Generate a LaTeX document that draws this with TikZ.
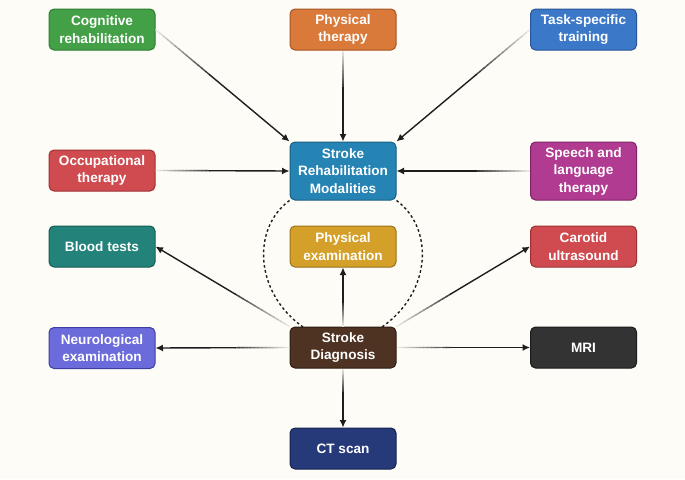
\documentclass[tikz,border=0pt]{standalone}
\usepackage{fontspec}
\setmainfont{Liberation Sans}
\usetikzlibrary{arrows.meta,calc}
\definecolor{bg}{HTML}{FDFCF6}
\definecolor{cogF}{HTML}{43A047}\definecolor{cogD}{HTML}{2E7D32}
\definecolor{ptF}{HTML}{D9793A}\definecolor{ptD}{HTML}{A65523}
\definecolor{taskF}{HTML}{3C78C8}\definecolor{taskD}{HTML}{28549A}
\definecolor{occF}{HTML}{CF4B50}\definecolor{occD}{HTML}{9E2F34}
\definecolor{rehabF}{HTML}{2584B4}\definecolor{rehabD}{HTML}{1A5E82}
\definecolor{speechF}{HTML}{B03B91}\definecolor{speechD}{HTML}{7E2466}
\definecolor{bloodF}{HTML}{23837A}\definecolor{bloodD}{HTML}{165C55}
\definecolor{pexF}{HTML}{D4A02A}\definecolor{pexD}{HTML}{9A7218}
\definecolor{neuroF}{HTML}{6B6BDB}\definecolor{neuroD}{HTML}{3E3EA0}
\definecolor{diagF}{HTML}{4E3222}\definecolor{diagD}{HTML}{2E1C12}
\definecolor{mriF}{HTML}{333333}\definecolor{mriD}{HTML}{1A1A1A}
\definecolor{ctF}{HTML}{263A7A}\definecolor{ctD}{HTML}{16234F}
\definecolor{edge}{HTML}{1E1E1E}
\tikzset{
  box/.style={rectangle, rounded corners=5pt, line width=1pt, minimum width=106pt,
    minimum height=41pt, inner sep=2pt, align=center, text=white,
    font=\bfseries\fontsize{13.6}{17.5}\selectfont},
  arr/.style={line width=1.4pt, edge, -{Latex[length=7.5pt,width=7pt]}},
  dashline/.style={line width=1.4pt, edge, dash pattern=on 2.6pt off 2.6pt}
}
\newcommand\gconn[2]{%
  \path (#1) -- (#2) coordinate[pos=0] (gs) coordinate[pos=1] (gt);
  \foreach \i in {0,...,13} {%
    \pgfmathsetmacro\gc{int(10+\i*5.8)}%
    \draw[line width=1.4pt, edge!\gc!bg] ($(gs)!{\i/35}!(gt)$) -- ($(gs)!{(\i+1.2)/35}!(gt)$);
  }
  \draw[arr] ($(gs)!{14/35}!(gt)$) -- (gt);
}
\begin{document}
\begin{tikzpicture}[x=1pt,y=-1pt]
\fill[bg] (0,0) rectangle (685,479);
\useasboundingbox (0,0) rectangle (685,479);

\coordinate (la) at (303,327);
\coordinate (ra) at (382,327);

\node[box, fill=cogF, draw=cogD] (cog) at (102,29.5) {Cognitive\\rehabilitation};
\node[box, fill=ptF, draw=ptD] (pt) at (343,29.5) {Physical\\therapy};
\node[box, fill=taskF, draw=taskD] (task) at (583.5,29.5) {Task-specific\\training};
\node[box, fill=occF, draw=occD] (occ) at (102,170.5) {Occupational\\therapy};
\node[box, fill=rehabF, draw=rehabD, minimum height=58pt] (rehab) at (343,171) {Stroke\\Rehabilitation\\Modalities};
\node[box, fill=speechF, draw=speechD, minimum height=58pt] (speech) at (583.5,171) {Speech and\\language\\therapy};
\node[box, fill=bloodF, draw=bloodD] (blood) at (102,246.5) {Blood tests};
\node[box, fill=pexF, draw=pexD] (pex) at (343,246.5) {Physical\\examination};
\node[box, fill=occF, draw=occD] (carot) at (583.5,246.5) {Carotid\\ultrasound};
\node[box, fill=neuroF, draw=neuroD] (neuro) at (102,348) {Neurological\\examination};
\node[box, fill=diagF, draw=diagD] (diag) at (343,347.5) {Stroke\\Diagnosis};
\node[box, fill=mriF, draw=mriD] (mri) at (583.5,347.5) {MRI};
\node[box, fill=ctF, draw=ctD] (ct) at (343,448.5) {CT scan};

\draw[dashline] (rehab.south west) .. controls (252,228) and (254,292) .. (la);
\draw[dashline] (rehab.south east) .. controls (434,228) and (432,292) .. (ra);

\gconn{cog.east}{rehab.north west}
\gconn{pt.south}{rehab.north}
\gconn{task.west}{rehab.north east}
\gconn{occ.east}{rehab.west}
\gconn{speech.west}{rehab.east}
\gconn{diag.north}{pex.south}
\gconn{diag.north west}{blood.east}
\gconn{diag.north east}{carot.west}
\gconn{diag.west}{neuro.east}
\gconn{diag.east}{mri.west}
\gconn{diag.south}{ct.north}
\end{tikzpicture}
\end{document}
